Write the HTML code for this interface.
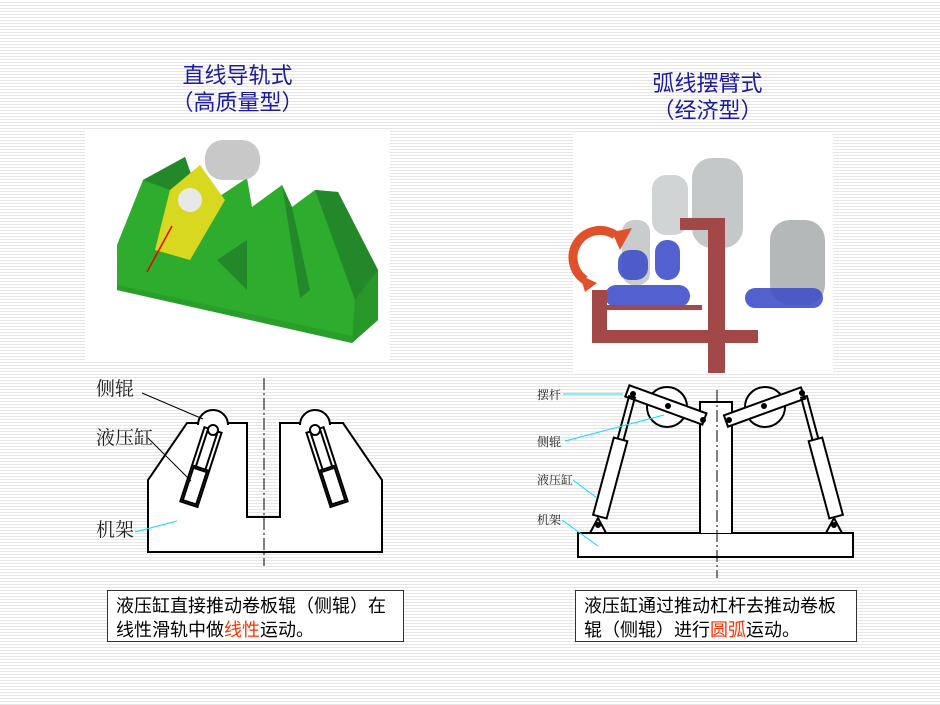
<!DOCTYPE html>
<html><head><meta charset="utf-8"><style>
html,body{margin:0;padding:0}
body{width:940px;height:705px;position:relative;overflow:hidden;
background:repeating-linear-gradient(to bottom,#ffffff 0px,#ffffff 2px,#e6e6e6 2px,#e6e6e6 3px);
font-family:"Liberation Sans","Noto Sans CJK SC",sans-serif}
.t{position:absolute;color:#1c1c9c;font-size:22px;text-align:center;line-height:27px}
.box{position:absolute;background:#fff;border:1px solid #333;font-size:18px;line-height:24px;padding:3px 8px;box-sizing:border-box;color:#000}
.r{color:#ff3300}
</style></head><body>
<div class="t" style="left:130px;top:62px;width:215px">直线导轨式<br>（高质量型）</div>
<div class="t" style="left:600px;top:70px;width:215px">弧线摆臂式<br>（经济型）</div>

<svg width="940" height="705" style="position:absolute;left:0;top:0">
<!-- left photo -->
<rect x="85" y="130" width="305" height="230" fill="#fff"/>
<polygon points="117,290 117,245 143,180 185,157 192,177 217,198 247,178 252,207 282,185 292,207 315,190 338,192 378,270 378,320 352,343" fill="#2eac2e"/>
<polygon points="143,180 185,157 192,177 170,190" fill="#23882a"/>
<polygon points="315,190 338,192 378,270 355,300" fill="#23882a"/>
<polygon points="282,185 292,207 310,290 300,298" fill="#23882a"/>
<polygon points="217,260 247,240 247,290" fill="#23882a"/>
<polygon points="352,343 378,320 378,270 355,300" fill="#27972a"/>
<polygon points="117,290 352,343 352,336 117,285" fill="#2a9e2a"/>
<rect x="205" y="140" width="55" height="40" rx="18" fill="#c8c8c8"/>
<polygon points="170,190 200,165 225,200 190,260 155,250" fill="#d8d820"/>
<circle cx="190" cy="200" r="12" fill="#e8e8e8"/>
<line x1="172" y1="226" x2="147" y2="272" stroke="#e00" stroke-width="1.5"/>

<!-- right photo -->
<rect x="573" y="133" width="260" height="240" fill="#fff"/>
<rect x="692" y="158" width="51" height="90" rx="20" fill="#c4c8c8"/>
<rect x="652" y="175" width="36" height="60" rx="14" fill="#d0d4d4"/>
<rect x="622" y="220" width="28" height="65" rx="12" fill="#c8cccc"/>
<rect x="770" y="220" width="55" height="85" rx="20" fill="#b4b8b8"/>
<path d="M585,280 a25,25 0 0 1 30,-45" stroke="#e0502a" stroke-width="9" fill="none"/>
<polygon points="620,250 632,228 612,232" fill="#e0502a"/>
<polygon points="597,283 585,292 580,275" fill="#e0502a"/>
<g fill="#4050c8" opacity="0.9">
<rect x="605" y="285" width="85" height="22" rx="11"/>
<rect x="618" y="250" width="30" height="30" rx="12"/>
<rect x="655" y="240" width="25" height="40" rx="12"/>
<rect x="745" y="288" width="78" height="20" rx="10"/>
</g>
<g fill="#a24848">
<rect x="708" y="218" width="17" height="155"/>
<rect x="680" y="218" width="45" height="12"/>
<rect x="592" y="330" width="166" height="13"/>
<rect x="592" y="290" width="15" height="53"/>
<rect x="607" y="305" width="95" height="5"/>
</g>

<!-- left drawing -->
<g stroke="#000" stroke-width="2" fill="none">
<polygon points="148,552 148,480 187,423 247,423 247,517 280,517 280,423 343,423 382,480 382,552" fill="#fff"/>
<path d="M198,425 a15,15 0 0 1 30,0" fill="#fff"/>
<path d="M300,425 a15,15 0 0 1 30,0" fill="#fff"/>
<g transform="rotate(18 213 430)"><rect x="204" y="430" width="18" height="78" fill="#fff"/><rect x="208" y="432" width="10" height="40"/><rect x="206" y="470" width="14" height="36"/></g>
<circle cx="213" cy="430" r="5" fill="#fff"/>
<g transform="rotate(-18 315 430)"><rect x="306" y="430" width="18" height="78" fill="#fff"/><rect x="310" y="432" width="10" height="40"/><rect x="308" y="470" width="14" height="36"/></g>
<circle cx="315" cy="430" r="5" fill="#fff"/>
</g>
<line x1="264" y1="378" x2="264" y2="566" stroke="#000" stroke-width="1" stroke-dasharray="12,3,2,3"/>
<g stroke="#000" stroke-width="1"><line x1="142" y1="393" x2="203" y2="419"/><line x1="148" y1="438" x2="191" y2="481"/></g>
<line x1="135" y1="532" x2="177" y2="521" stroke="#00e0ff" stroke-width="1"/>
<g font-size="19" fill="#222" font-family="Liberation Serif,'Noto Serif CJK SC',serif">
<text x="96" y="395">侧辊</text><text x="96" y="444">液压缸</text><text x="96" y="536">机架</text></g>

<!-- right drawing -->
<g stroke="#000" stroke-width="2" fill="none">
<rect x="578" y="533" width="275" height="24" fill="#fff"/>
<path d="M700,533 V402 H732 V533" fill="#fff"/>
<circle cx="667" cy="407" r="20" fill="#fff"/>
<circle cx="765" cy="407" r="20" fill="#fff"/>
<g transform="rotate(20 633 393)"><rect x="627" y="387" width="82" height="12" fill="#fff"/></g>
<g transform="rotate(-20 803 393)"><rect x="721" y="387" width="82" height="12" fill="#fff"/></g>
<g transform="rotate(15 633 393)"><rect x="630" y="397" width="6" height="45"/><rect x="626" y="441" width="14" height="80" fill="#fff"/></g>
<g transform="rotate(-15 803 393)"><rect x="800" y="397" width="6" height="45"/><rect x="796" y="441" width="14" height="80" fill="#fff"/></g>
<polygon points="590,533 598,518 606,533" fill="#fff"/>
<polygon points="826,533 834,518 842,533" fill="#fff"/>
</g>
<g fill="#000"><circle cx="633" cy="394" r="3"/><circle cx="668" cy="406" r="3"/><circle cx="703" cy="420" r="3"/><circle cx="729" cy="420" r="3"/><circle cx="764" cy="406" r="3"/><circle cx="802" cy="393" r="3"/><circle cx="598" cy="525" r="3"/><circle cx="834" cy="525" r="3"/></g>
<line x1="717" y1="390" x2="717" y2="578" stroke="#000" stroke-width="1" stroke-dasharray="12,3,2,3"/>
<g stroke="#00e0ff" stroke-width="1"><line x1="563" y1="394" x2="623" y2="394"/><line x1="565" y1="441" x2="664" y2="415"/><line x1="573" y1="480" x2="597" y2="498"/><line x1="562" y1="520" x2="598" y2="546"/></g>
<g font-size="12" fill="#222" font-family="Liberation Serif,'Noto Serif CJK SC',serif">
<text x="537" y="399">摆杆</text><text x="537" y="446">侧辊</text><text x="537" y="484">液压缸</text><text x="537" y="524">机架</text></g>
</svg>

<div class="box" style="left:107px;top:590px;width:297px;height:52px">液压缸直接推动卷板辊（侧辊）在线性滑轨中做<span class="r">线性</span>运动。</div>
<div class="box" style="left:575px;top:590px;width:282px;height:52px">液压缸通过推动杠杆去推动卷板辊（侧辊）进行<span class="r">圆弧</span>运动。</div>
</body></html>
